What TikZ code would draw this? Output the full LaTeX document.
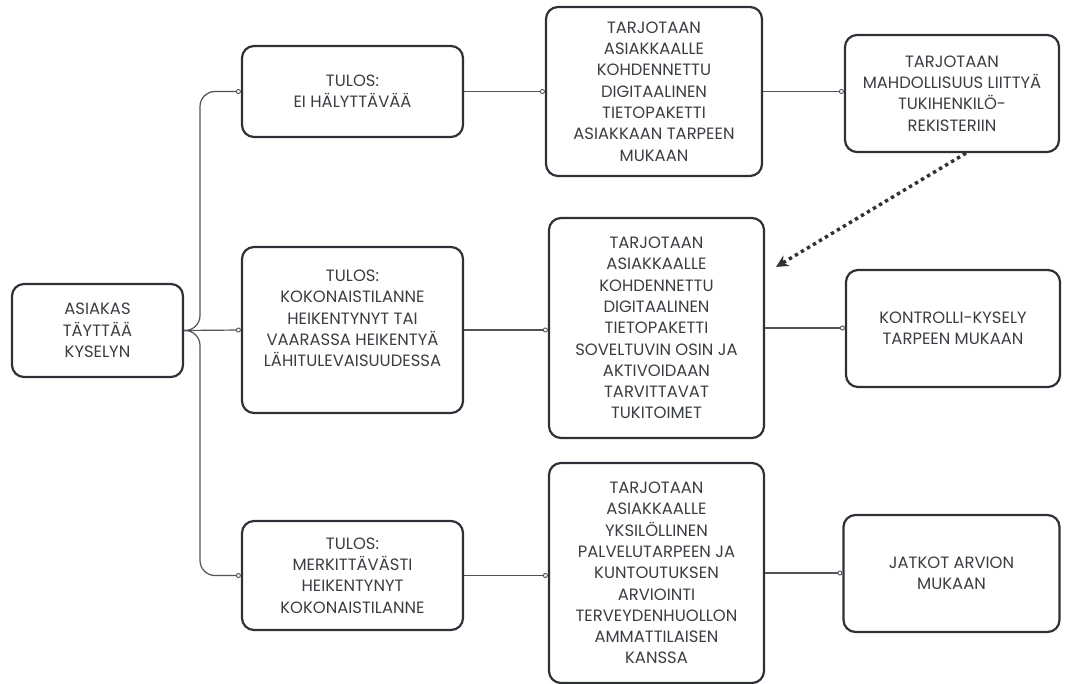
\documentclass[tikz,border=0pt]{standalone}
\usepackage{fontspec}
\setmainfont{Poppins}
\usetikzlibrary{arrows.meta}
\definecolor{boxline}{HTML}{2E3138}
\definecolor{txt}{HTML}{3A3D42}
\definecolor{conncol}{HTML}{50535A}
\tikzset{
  box/.style={draw=boxline, line width=2.2pt, rounded corners=12pt, align=center,
    text=txt, font=\fontsize{16.4pt}{21.3pt}\selectfont, inner sep=0pt},
  conn/.style={draw=conncol, line width=1.2pt, -{Circle[open,length=5pt,width=5pt,line width=0.9pt]}},
  dotarrow/.style={draw=boxline, line width=3.4pt, dash pattern=on 3.4pt off 3.6pt,
    -{Stealth[length=12pt,width=12pt,inset=4pt]}}
}
\begin{document}
\begin{tikzpicture}[x=1pt,y=-1pt]
\useasboundingbox (0,0) rectangle (1070,684);
% left
\node[box, minimum width=171pt, minimum height=93pt] (A) at (97.5,330.5) {ASIAKAS\\TÄYTTÄÄ\\KYSELYN};
\node[box, minimum width=221pt, minimum height=91pt] (L1) at (352.5,91.5) {TULOS:\\EI HÄLYTTÄVÄÄ};
\node[box, minimum width=221pt, minimum height=166pt] (L2) at (352.5,330) {TULOS:\\KOKONAISTILANNE\\HEIKENTYNYT TAI\\VAARASSA HEIKENTYÄ\\LÄHITULEVAISUUDESSA\\[2pt]};
\node[box, minimum width=221pt, minimum height=109pt] (L3) at (352.5,575.5) {TULOS:\\MERKITTÄVÄSTI\\HEIKENTYNYT\\KOKONAISTILANNE};
% middle
\node[box, minimum width=216pt, minimum height=169pt] (M1) at (654,91.5) {TARJOTAAN\\ASIAKKAALLE\\KOHDENNETTU\\DIGITAALINEN\\TIETOPAKETTI\\ASIAKKAAN TARPEEN\\MUKAAN};
\node[box, minimum width=215pt, minimum height=220pt] (M2) at (656.5,328) {TARJOTAAN\\ASIAKKAALLE\\KOHDENNETTU\\DIGITAALINEN\\TIETOPAKETTI\\SOVELTUVIN OSIN JA\\AKTIVOIDAAN\\TARVITTAVAT\\TUKITOIMET};
\node[box, minimum width=215pt, minimum height=220pt] (M3) at (656.5,573) {TARJOTAAN\\ASIAKKAALLE\\YKSILÖLLINEN\\PALVELUTARPEEN JA\\KUNTOUTUKSEN\\ARVIOINTI\\TERVEYDENHUOLLON\\AMMATTILAISEN\\KANSSA};
% right
\node[box, minimum width=214pt, minimum height=117pt] (R1) at (952,93.5) {TARJOTAAN\\MAHDOLLISUUS LIITTYÄ\\TUKIHENKILÖ-\\REKISTERIIN};
\node[box, minimum width=214pt, minimum height=117pt] (R2) at (953,328.5) {KONTROLLI-KYSELY\\TARPEEN MUKAAN};
\node[box, minimum width=216pt, minimum height=117pt] (R3) at (951.5,573.5) {JATKOT ARVION\\MUKAAN};
% connectors
\coordinate (T) at (200,330.5);
\draw[conn, rounded corners=15pt] (A.east) -- (T) |- (L1.west);
\draw[conn, rounded corners=15pt] (A.east) -- (T) |- (L3.west);
\draw[conn] (A.east) -- (L2.west);
\draw[conn] (L1.east) -- (L1.east -| M1.west);
\draw[conn] (L2.east) -- (L2.east -| M2.west);
\draw[conn] (L3.east) -- (L3.east -| M3.west);
\draw[conn] (M1.east) -- (M1.east -| R1.west);
\draw[conn] (M2.east) -- (M2.east -| R2.west);
\draw[conn] (M3.east) -- (M3.east -| R3.west);
\draw[dotarrow] ([xshift=14pt]R1.south) -- ([xshift=11pt,yshift=-50pt]M2.north east);
\end{tikzpicture}
\end{document}
